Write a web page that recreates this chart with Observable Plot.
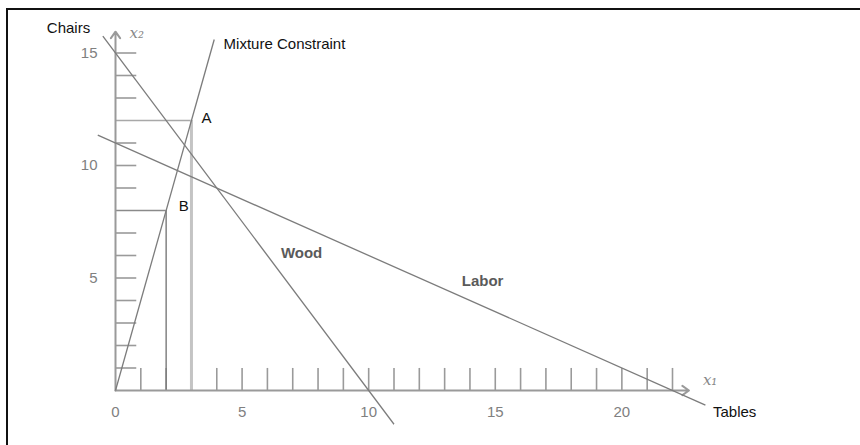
<!DOCTYPE html>
<html>
<head>
<meta charset="utf-8">
<script src="https://cdn.jsdelivr.net/npm/d3@7"></script>
<script src="https://cdn.jsdelivr.net/npm/@observablehq/plot@0.6"></script>
<style>
  html, body { margin: 0; padding: 0; background: #fff; }
  #wrap { position: relative; width: 860px; height: 445px; overflow: hidden; }
  #frame { position: absolute; left: 6px; top: 8px; width: 900px; height: 500px;
           border-top: 2px solid #111; border-left: 2px solid #111; pointer-events: none; }
</style>
</head>
<body>
<div id="wrap"><div id="chart"></div><div id="frame"></div></div>
<script>
// ---- data ----
const xTickValues = [1,2,3,4,5,6,7,8,9,10,11,12,13,14,15,16,17,18,19,20,21,22];
const yTickValues = [1,2,3,4,5,6,7,9,10,11,13,14,15];
const xTickLabels = [0,5,10,15,20];
const yTickLabels = [5,10,15];

// constraint lines (endpoints, in data units)
const lineNames = ["Wood", "Labor", "Mixture Constraint"];
const lineX1 = [-0.5, -0.7, 0];
const lineY1 = [15.75, 11.35, 0];
const lineX2 = [11.0, 23.3, 3.9];
const lineY2 = [-1.5, -0.65, 15.6];

// corner points
const pointNames = ["A", "B"];
const pointX = [3, 2];
const pointY = [12, 8];

// text annotations
const labelText = ["Mixture Constraint", "A", "B", "Tables"];
const labelX = [4.27, 3.4, 2.5, 23.6];
const labelY = [15.4, 12.1, 8.2, -0.98];
const greyLabelText = ["Wood", "Labor"];
const greyLabelX = [7.35, 14.5];
const greyLabelY = [6.1, 4.85];

// ---- build tables ----
const lines = lineNames.map((n, i) => ({name: n, x1: lineX1[i], y1: lineY1[i], x2: lineX2[i], y2: lineY2[i]}));
const points = pointNames.map((n, i) => ({name: n, x: pointX[i], y: pointY[i]}));
const labels = labelText.map((t, i) => ({t, x: labelX[i], y: labelY[i]}));
const greyLabels = greyLabelText.map((t, i) => ({t, x: greyLabelX[i], y: greyLabelY[i]}));

const axisColor = "#9a9a9a";
const font = "Liberation Sans, Arial, sans-serif";

const chart = Plot.plot({
  width: 860,
  height: 445,
  marginLeft: 115,
  marginRight: 188,
  marginTop: 52.5,
  marginBottom: 55,
  x: {domain: [0, 22], axis: null},
  y: {domain: [0, 15], axis: null},
  style: {fontFamily: font, background: "transparent"},
  marks: [
    // y ticks (to the right of the axis)
    Plot.ruleY(yTickValues, {y: d => d, x1: 0, x2: 0.84, stroke: axisColor, strokeWidth: 1.6}),
    // x ticks (upward)
    Plot.ruleX(xTickValues, {x: d => d, y1: 0, y2: 0.98, stroke: axisColor, strokeWidth: 1.6}),
    // drop lines for A
    Plot.ruleY([points[0]], {y: "y", x1: 0, x2: "x", stroke: "#a8a8a8", strokeWidth: 1.6}),
    Plot.ruleX([points[0]], {x: "x", y1: 0, y2: "y", stroke: "#c4c4c4", strokeWidth: 3}),
    // drop lines for B
    Plot.ruleY([points[1]], {y: "y", x1: 0, x2: "x", stroke: "#8a8a8a", strokeWidth: 1.6}),
    Plot.ruleX([points[1]], {x: "x", y1: 0, y2: "y", stroke: "#7a7a7a", strokeWidth: 1.4}),
    // axes with arrows
    Plot.arrow([{x1: 0, y1: 0, x2: 0, y2: 15.95}], {x1: "x1", y1: "y1", x2: "x2", y2: "y2",
      stroke: axisColor, strokeWidth: 2, headLength: 6, headAngle: 70}),
    Plot.arrow([{x1: 0, y1: 0, x2: 22.65, y2: 0}], {x1: "x1", y1: "y1", x2: "x2", y2: "y2",
      stroke: axisColor, strokeWidth: 2, headLength: 6, headAngle: 70}),
    // constraint lines
    Plot.link(lines, {x1: "x1", y1: "y1", x2: "x2", y2: "y2", stroke: "#7c7c7c", strokeWidth: 1.3}),
    // tick labels
    Plot.text(xTickLabels, {x: d => d, y: 0, dy: 22, text: d => String(d), fill: "#808080",
      fontSize: 15}),
    Plot.text(yTickLabels, {x: 0, y: d => d, dx: -18, text: d => String(d), fill: "#808080",
      fontSize: 15, textAnchor: "end"}),
    // axis titles
    Plot.text(["Chairs"], {x: -1.0, y: 16.1, text: d => d, textAnchor: "end", fill: "#111", fontSize: 15}),
    Plot.text(["x₂"], {x: 0.55, y: 15.9, text: d => d, textAnchor: "start", fill: "#888",
      fontSize: 15, fontStyle: "italic", fontFamily: "DejaVu Serif, serif"}),
    Plot.text(["x₁"], {x: 23.2, y: 0.45, text: d => d, textAnchor: "start", fill: "#888",
      fontSize: 15, fontStyle: "italic", fontFamily: "DejaVu Serif, serif"}),
    // annotations
    Plot.text(labels, {x: "x", y: "y", text: "t", textAnchor: "start", fill: "#111", fontSize: 15}),
    Plot.text(greyLabels, {x: "x", y: "y", text: "t", fill: "#5a5a5a", fontSize: 15, fontWeight: "bold"})
  ]
});
document.getElementById("chart").appendChild(chart);
</script>
</body>
</html>
